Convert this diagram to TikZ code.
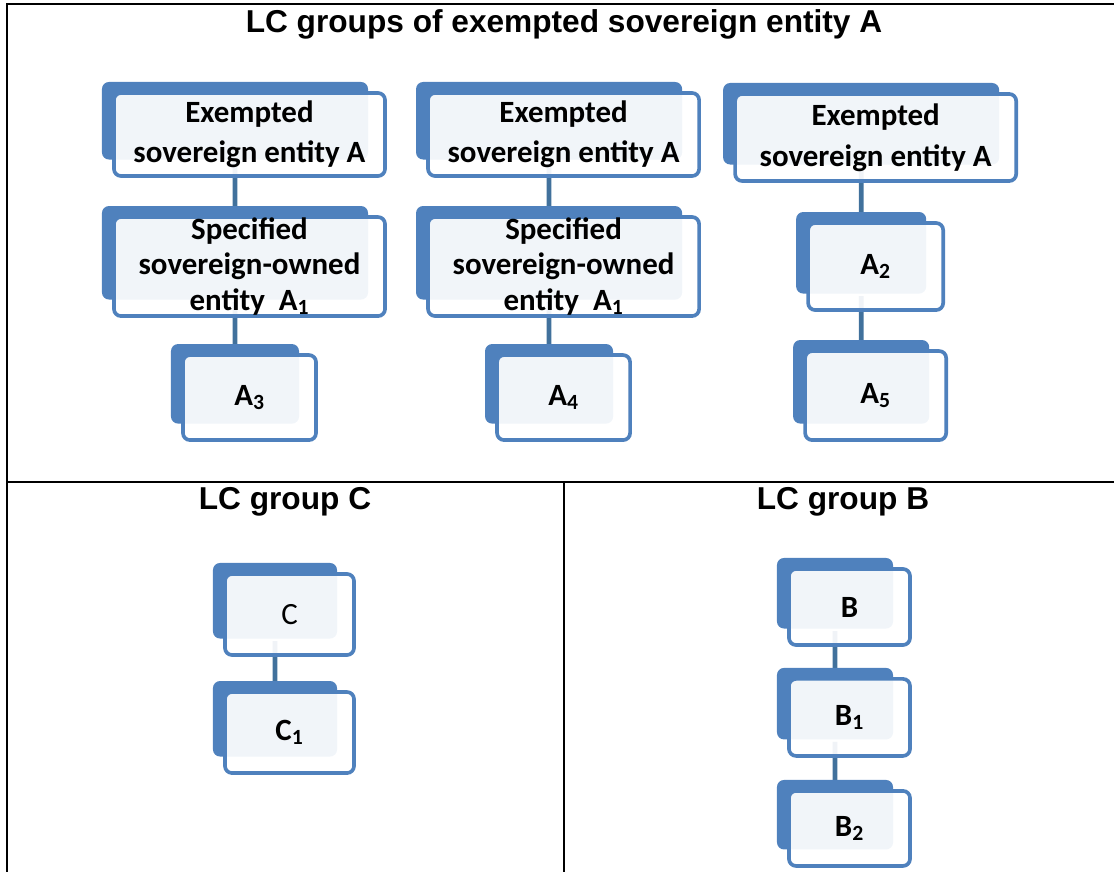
\documentclass[tikz,border=0pt]{standalone}
\usepackage{fontspec}
\setmainfont{Carlito}
\newfontfamily\headfont{Liberation Sans}
\usetikzlibrary{shapes,positioning,backgrounds}
\definecolor{boxblue}{HTML}{4F81BD}
\definecolor{linkblue}{HTML}{41719C}
\tikzstyle{heading} = [font=\headfont\fontsize{22.5}{27}\selectfont\bfseries]
\tikzstyle{entity} = [draw=boxblue,rectangle,line width=2.6pt,rounded corners=5pt,fill=white,fill opacity=0.92,text opacity=1,outer sep=0pt,inner sep=0pt,align=center,font=\fontsize{22}{28.5}\selectfont\bfseries]
\tikzstyle{back} = [fill=boxblue,rounded corners=5pt]
\tikzstyle{link} = [draw=linkblue,line width=3.4pt]
\tikzstyle{frame} = [draw=black,line width=1.5pt]

\begin{document}
\begin{tikzpicture}[x=0.025cm,y=-0.025cm]
  \useasboundingbox (0,0) rectangle (1114,872);

  %table
  \draw[frame] (1114,4) -| (7,872);
  \draw[frame] (7,482) -- (1114,482);
  \draw[frame] (564,482) -- (564,872);

  %headings
  \node[heading] (ttla) at (564,24) {LC groups of exempted sovereign entity A};
  \node[heading] (ttlc) at (285,502) {LC group C};
  \node[heading] (ttlb) at (843,502) {LC group B};

  %column 1
  \node[entity,minimum width=6.775cm,minimum height=2.075cm] (exa1) at (249.5,134.5) {Exempted\\sovereign entity A};
  \node[entity,below of=exa1,node distance=3.3cm,minimum width=6.775cm,minimum height=2.475cm,font=\fontsize{22}{25}\selectfont\bfseries] (soa1) {Specified\\sovereign-owned\\entity~~A\textsubscript{1}};
  \node[entity,below of=soa1,node distance=3.275cm,minimum width=3.325cm,minimum height=2.125cm] (a3) {A\textsubscript{3}};

  %column 2
  \node[entity,right of=exa1,node distance=7.85cm,minimum width=6.775cm,minimum height=2.075cm] (exa2) {Exempted\\sovereign entity A};
  \node[entity,below of=exa2,node distance=3.3cm,minimum width=6.775cm,minimum height=2.475cm,font=\fontsize{22}{25}\selectfont\bfseries] (soa2) {Specified\\sovereign-owned\\entity~~A\textsubscript{1}};
  \node[entity,below of=soa2,node distance=3.275cm,minimum width=3.325cm,minimum height=2.125cm] (a4) {A\textsubscript{4}};

  %column 3
  \node[entity,right of=exa2,node distance=7.8cm,yshift=-0.075cm,minimum width=7.025cm,minimum height=2.175cm,font=\fontsize{22}{29}\selectfont\bfseries] (exa3) {Exempted\\sovereign entity A};
  \node[entity,below of=exa3,node distance=3.225cm,minimum width=3.375cm,minimum height=2.175cm] (a2) {A\textsubscript{2}};
  \node[entity,below of=a2,node distance=3.225cm,minimum width=3.525cm,minimum height=2.225cm] (a5) {A\textsubscript{5}};

  %group C
  \node[entity,minimum width=3.225cm,minimum height=2.025cm,font=\fontsize{22}{26}\selectfont] (c) at (289.5,614.5) {C};
  \node[entity,below of=c,node distance=2.95cm,minimum width=3.225cm,minimum height=2.025cm] (c1) {C\textsubscript{1}};

  %group B
  \node[entity,minimum width=3.025cm,minimum height=1.9cm] (b) at (849.5,607) {B};
  \node[entity,below of=b,node distance=2.76cm,minimum width=3.025cm,minimum height=1.925cm] (b1) {B\textsubscript{1}};
  \node[entity,below of=b1,node distance=2.775cm,minimum width=3.025cm,minimum height=1.875cm] (b2) {B\textsubscript{2}};

  \begin{scope}[on background layer]
    %links
    \draw[link] ([shift={(-14.5,-14)}]exa1.south) -- ([xshift=-0.3625cm]soa1.north);
    \draw[link] ([shift={(-14.5,-14)}]soa1.south) -- ([xshift=-0.3625cm]a3.north);
    \draw[link] ([shift={(-14.5,-14)}]exa2.south) -- ([xshift=-0.3625cm]soa2.north);
    \draw[link] ([shift={(-14.5,-14)}]soa2.south) -- ([xshift=-0.3625cm]a4.north);
    \draw[link] ([shift={(-14.5,-14)}]exa3.south) -- ([xshift=-0.3625cm]a2.north);
    \draw[link] ([shift={(-14.5,-14)}]a2.south) -- ([xshift=-0.3625cm]a5.north);
    \draw[link] ([shift={(-14.5,-14)}]c.south) -- ([xshift=-0.3625cm]c1.north);
    \draw[link] ([shift={(-14.5,-14)}]b.south) -- ([xshift=-0.3625cm]b1.north);
    \draw[link] ([shift={(-14.5,-14)}]b1.south) -- ([xshift=-0.3625cm]b2.north);

    %back plates
    \fill[back] ([shift={(-12,-11)}]exa1.north west) rectangle ([shift={(-17,-16.5)}]exa1.south east);
    \fill[back] ([shift={(-12,-11)}]soa1.north west) rectangle ([shift={(-17,-16.5)}]soa1.south east);
    \fill[back] ([shift={(-12,-11)}]a3.north west) rectangle ([shift={(-17,-16.5)}]a3.south east);
    \fill[back] ([shift={(-12,-11)}]exa2.north west) rectangle ([shift={(-17,-16.5)}]exa2.south east);
    \fill[back] ([shift={(-12,-11)}]soa2.north west) rectangle ([shift={(-17,-16.5)}]soa2.south east);
    \fill[back] ([shift={(-12,-11)}]a4.north west) rectangle ([shift={(-17,-16.5)}]a4.south east);
    \fill[back] ([shift={(-12,-11)}]exa3.north west) rectangle ([shift={(-17,-16.5)}]exa3.south east);
    \fill[back] ([shift={(-12,-11)}]a2.north west) rectangle ([shift={(-17,-16.5)}]a2.south east);
    \fill[back] ([shift={(-12,-11)}]a5.north west) rectangle ([shift={(-17,-16.5)}]a5.south east);
    \fill[back] ([shift={(-12,-11)}]c.north west) rectangle ([shift={(-17,-16.5)}]c.south east);
    \fill[back] ([shift={(-12,-11)}]c1.north west) rectangle ([shift={(-17,-16.5)}]c1.south east);
    \fill[back] ([shift={(-12,-11)}]b.north west) rectangle ([shift={(-17,-16.5)}]b.south east);
    \fill[back] ([shift={(-12,-11)}]b1.north west) rectangle ([shift={(-17,-16.5)}]b1.south east);
    \fill[back] ([shift={(-12,-11)}]b2.north west) rectangle ([shift={(-17,-16.5)}]b2.south east);
  \end{scope}
\end{tikzpicture}
\end{document}
